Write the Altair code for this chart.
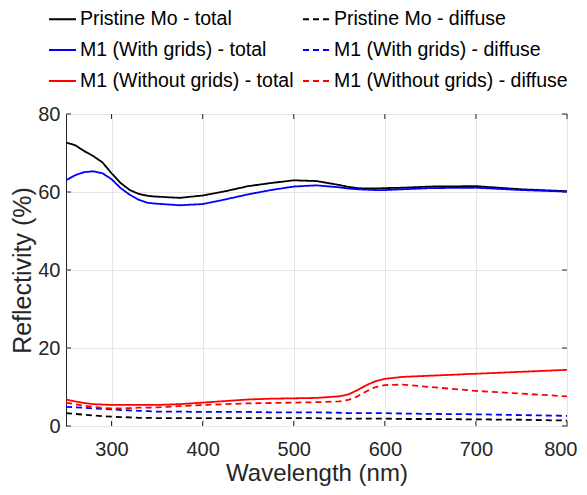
import altair as alt
import pandas as pd

wl = [250, 260, 270, 280, 290, 300, 310, 320, 330, 340, 350, 375, 400, 425, 450,
      475, 500, 525, 550, 560, 570, 580, 590, 600, 620, 650, 700, 750, 800]

pristine_total = [72.7, 72.0, 70.5, 69.2, 67.6, 64.8, 62.3, 60.5, 59.5, 59.0, 58.8, 58.5, 59.1, 60.2, 61.5,
                  62.3, 63.0, 62.8, 61.8, 61.3, 61.0, 60.9, 60.9, 61.0, 61.1, 61.4, 61.5, 60.7, 60.2]
with_total = [63.0, 64.3, 65.1, 65.3, 64.8, 63.3, 61.0, 59.3, 58.0, 57.2, 57.0, 56.6, 56.9, 58.1, 59.4,
              60.5, 61.4, 61.7, 61.2, 60.9, 60.7, 60.6, 60.5, 60.5, 60.7, 61.0, 61.1, 60.5, 60.1]
without_total = [6.8, 6.3, 5.9, 5.6, 5.5, 5.4, 5.4, 5.4, 5.4, 5.4, 5.4, 5.6, 6.0, 6.4, 6.8,
                 7.0, 7.1, 7.2, 7.6, 8.1, 9.2, 10.5, 11.5, 12.1, 12.6, 12.9, 13.4, 13.9, 14.4]
pristine_diffuse = [3.3, 3.1, 2.9, 2.7, 2.5, 2.4, 2.3, 2.2, 2.1, 2.1, 2.0, 2.0, 2.0, 2.0, 2.0,
                    2.0, 2.0, 2.0, 1.9, 1.9, 1.9, 1.9, 1.9, 1.9, 1.8, 1.8, 1.7, 1.6, 1.4]
with_diffuse = [4.9, 4.8, 4.7, 4.5, 4.4, 4.3, 4.1, 4.0, 3.9, 3.8, 3.7, 3.7, 3.6, 3.6, 3.6,
                3.5, 3.5, 3.5, 3.4, 3.3, 3.3, 3.3, 3.3, 3.3, 3.2, 3.1, 3.0, 2.8, 2.6]
without_diffuse = [6.0, 5.6, 5.2, 4.9, 4.6, 4.5, 4.5, 4.6, 4.7, 4.7, 4.8, 5.1, 5.4, 5.6, 5.8,
                   5.9, 6.0, 6.1, 6.3, 6.7, 7.6, 8.9, 10.0, 10.5, 10.6, 10.0, 9.0, 8.3, 7.6]

# legend is filled column by column: totals in the first column, diffuse in the second
series_names = ["Pristine Mo - total", "M1 (With grids) - total", "M1 (Without grids) - total",
                "Pristine Mo - diffuse", "M1 (With grids) - diffuse", "M1 (Without grids) - diffuse"]
series_values = [pristine_total, with_total, without_total,
                 pristine_diffuse, with_diffuse, without_diffuse]
series_colors = ["#000000", "#0000ff", "#ff0000", "#000000", "#0000ff", "#ff0000"]
series_dashes = [[1, 0], [1, 0], [1, 0], [6, 4], [6, 4], [6, 4]]

x_ticks = [300, 400, 500, 600, 700, 800]
y_ticks = [0, 20, 40, 60, 80]

rows = []
for name, vals in zip(series_names, series_values):
    for w, v in zip(wl, vals):
        rows.append({"wl": w, "r": v, "series": name})
df = pd.DataFrame(rows)

W, H = 501, 312
FONT = "Liberation Sans"
xscale = alt.Scale(domain=[250, 800], nice=False, zero=False)
yscale = alt.Scale(domain=[0, 80], nice=False)

lines = alt.Chart(df).mark_line(strokeWidth=1.8, clip=True).encode(
    x=alt.X("wl:Q", scale=xscale,
            axis=alt.Axis(title="Wavelength (nm)", values=x_ticks, grid=True, ticks=False,
                          domain=False, labelPadding=13, titlePadding=2,
                          labelFlush=True, labelFlushOffset=10, titleFontSize=24)),
    y=alt.Y("r:Q", scale=yscale,
            axis=alt.Axis(title="Reflectivity (%)", values=y_ticks, grid=True, ticks=False,
                          domain=False, labelPadding=6, titlePadding=2, labelFlush=False)),
    color=alt.Color("series:N", scale=alt.Scale(domain=series_names, range=series_colors),
                    legend=alt.Legend(title=None, orient="none", legendX=-18, legendY=-106,
                                      columns=2, symbolType="M-1,0H1.7", symbolSize=400,
                                      symbolStrokeWidth=2, labelFontSize=19.5, labelFont=FONT,
                                      labelColor="#000000", rowPadding=10, columnPadding=5,
                                      labelOffset=10, labelLimit=400)),
    strokeDash=alt.StrokeDash("series:N", scale=alt.Scale(domain=series_names, range=series_dashes),
                              legend=None),
    order=alt.Order("wl:Q"),
)

xt = pd.DataFrame({"t": x_ticks})
yt = pd.DataFrame({"t": y_ticks})
tick_color = "#262626"
bt = alt.Chart(xt).mark_rule(color=tick_color).encode(x=alt.X("t:Q", scale=xscale), y=alt.value(H), y2=alt.value(H - 5))
tt = alt.Chart(xt).mark_rule(color=tick_color).encode(x=alt.X("t:Q", scale=xscale), y=alt.value(0), y2=alt.value(5))
lt = alt.Chart(yt).mark_rule(color=tick_color).encode(y=alt.Y("t:Q", scale=yscale), x=alt.value(0), x2=alt.value(5))
rt = alt.Chart(yt).mark_rule(color=tick_color).encode(y=alt.Y("t:Q", scale=yscale), x=alt.value(W), x2=alt.value(W - 5))

chart = alt.layer(lines, bt, tt, lt, rt).properties(
    width=W, height=H,
    autosize=alt.AutoSizeParams(type="none"),
    padding={"left": 58, "top": 106, "right": 12, "bottom": 61},
).configure_view(stroke="#262626", strokeWidth=1).configure_axis(
    labelFont=FONT, titleFont=FONT, labelFontSize=20, titleFontSize=25,
    labelColor="#262626", titleColor="#262626", titleFontWeight="normal",
    gridColor="#e6e6e6", gridWidth=1,
).configure_legend(labelFont=FONT)

chart.save("out.html", embed_options={"renderer": "svg", "actions": False})
